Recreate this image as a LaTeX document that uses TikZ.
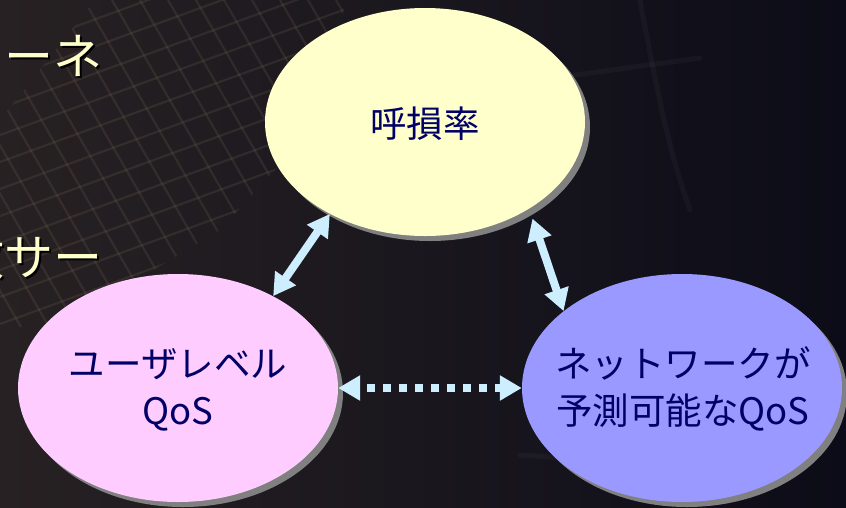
\documentclass[tikz,border=0pt]{standalone}
\usepackage{fontspec}
\newfontfamily\jpfont{Noto Sans CJK JP}
\usetikzlibrary{arrows.meta,shapes.geometric,shadows}
\definecolor{bgleft}{HTML}{272123}
\definecolor{bgmid}{HTML}{1D1A1F}
\definecolor{bgright}{HTML}{0C0C18}
\definecolor{creamfill}{HTML}{FFFFCC}
\definecolor{pinkfill}{HTML}{FFCCFF}
\definecolor{bluefill}{HTML}{9999FF}
\definecolor{navytext}{HTML}{000066}
\definecolor{arrowblue}{HTML}{CCEEFF}
\definecolor{shadowgray}{HTML}{808080}
\definecolor{gridtone}{HTML}{8A7760}
\definecolor{titlecream}{HTML}{FFFFCC}
\begin{document}
\begin{tikzpicture}[x=1pt,y=-1pt,
  blob/.style={ellipse, minimum width=320pt, minimum height=228pt, inner sep=0pt,
    drop shadow={shadow xshift=5pt, shadow yshift=-5pt, fill=shadowgray, opacity=1}},
  intext/.style={text=navytext, font=\jpfont\fontsize{36.5}{47}\selectfont, align=center, inner sep=0pt},
  link/.style={draw=arrowblue, line width=8pt,
    {Triangle[length=22pt,width=24pt]}-{Triangle[length=22pt,width=24pt]}},
  dotlink/.style={link, dash pattern=on 8pt off 8pt, dash phase=8pt},
  fragtext/.style={font=\jpfont\fontsize{49}{52}\selectfont, anchor=east, inner sep=0pt},
  gridline/.style={draw=gridtone, line width=2.2pt, opacity=0.17},
  streak/.style={draw=gray, line width=5pt, opacity=0.07, line cap=round},
]
\useasboundingbox (0,0) rectangle (846,507);
\clip (0,0) rectangle (846,507);
% background
\shade[left color=bgleft, middle color=bgmid, right color=bgright] (0,0) rectangle (846,507);
% faint grid texture
\begin{scope}
  \clip (95,0) -- (345,0) -- (330,110) -- (220,230) -- (70,320) -- (0,330) -- (0,120) -- cycle;
  \foreach \k in {-6,...,18} \draw[gridline] (0,\k*27) -- ++(560,-204);
  \foreach \k in {-12,...,14} \draw[gridline] (\k*28,0) -- ++(200,346);
\end{scope}
\draw[streak] (640,0) .. controls (655,80) and (668,150) .. (690,210);
\draw[streak] (575,75) -- (700,58);
\draw[streak] (520,455) .. controls (600,460) and (680,470) .. (760,470);
% left text fragments
\node[fragtext, text=black] (fragAs) at (105,58) {ーネ};
\node[fragtext, text=titlecream] (fragA) at (103,56) {ーネ};
\node[fragtext, text=black] (fragBs) at (105,259) {数サー};
\node[fragtext, text=titlecream] (fragB) at (103,257) {数サー};
% ellipses
\node[blob, fill=creamfill] (loss) at (425,122) {};
\node[blob, fill=pinkfill] (user) at (178,388) {};
\node[blob, fill=bluefill] (net) at (682,388) {};
\node[intext] (losst) at (425,124) {呼損率};
\node[intext] (usert) at (178,390) {ユーザレベル\\QoS};
\node[intext] (nett) at (683,389) {ネットワークが\\予測可能なQoS};
% connectors
\draw[link] (user.44) -- (loss.224);
\draw[link] (net.147) -- ([xshift=8pt,yshift=-7pt]loss.318);
\draw[dotlink] (user.east) -- (net.west);
\end{tikzpicture}
\end{document}
